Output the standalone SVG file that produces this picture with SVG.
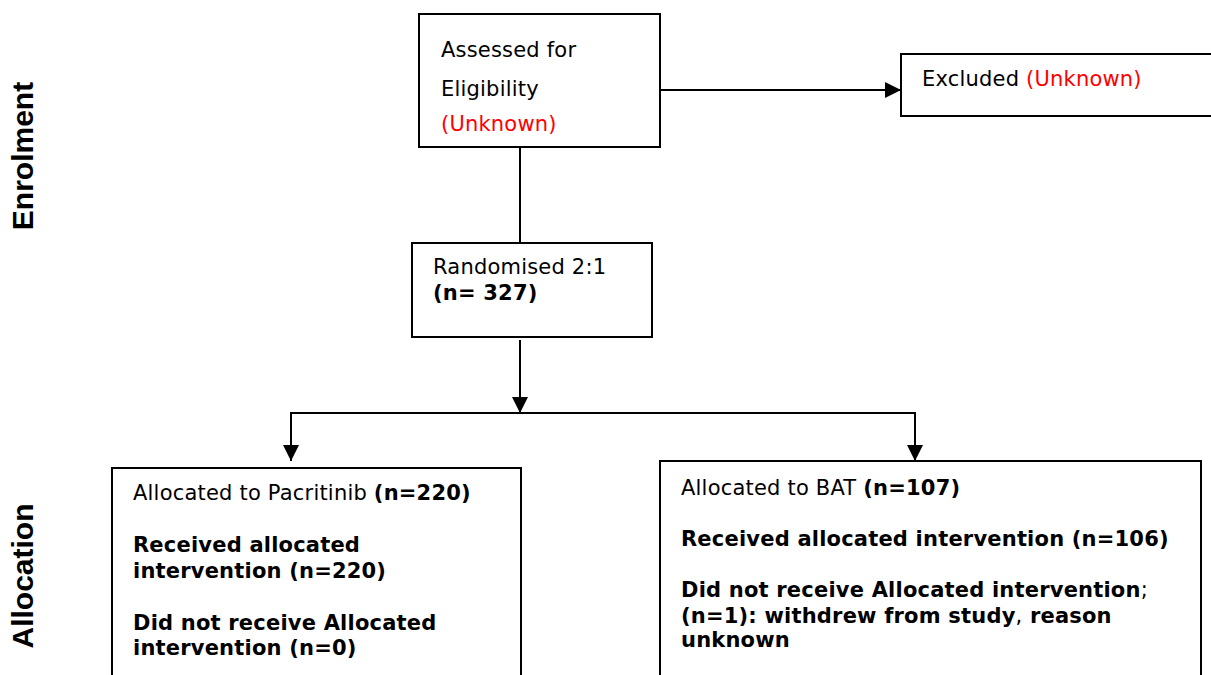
<svg xmlns="http://www.w3.org/2000/svg" width="1211" height="675" viewBox="0 0 1211 675">
<style>
.box{fill:#fff;stroke:#000;stroke-width:2}
.t{font-family:"DejaVu Sans",Verdana,sans-serif;font-size:21px;letter-spacing:0.2px;fill:#000}
.b{font-weight:bold}
.r{fill:#ff0000}
.n{font-weight:normal}
.side{font-family:"Liberation Sans",Arial,sans-serif;font-size:30px;font-weight:bold;fill:#000}
.ln{fill:none;stroke:#000;stroke-width:2}
</style>
<defs>
<marker id="ah" markerWidth="16" markerHeight="16" refX="16" refY="8" orient="auto" markerUnits="userSpaceOnUse">
<path d="M0,0 L16,8 L0,16 Z" fill="#000"/>
</marker>
</defs>
<rect width="1211" height="675" fill="#fff"/>
<text class="side" transform="translate(33,156) rotate(-90)" text-anchor="middle">Enrolment</text>
<text class="side" transform="translate(33,576) rotate(-90)" text-anchor="middle">Allocation</text>
<g id="connectors">
<line class="ln" x1="660" y1="90" x2="901" y2="90" marker-end="url(#ah)"/>
<line class="ln" x1="520" y1="147" x2="520" y2="243"/>
<line class="ln" x1="520" y1="340" x2="520" y2="413" marker-end="url(#ah)"/>
<polyline class="ln" points="291,413 915,413"/>
<line class="ln" x1="291" y1="412" x2="291" y2="461" marker-end="url(#ah)"/>
<line class="ln" x1="915" y1="412" x2="915" y2="461" marker-end="url(#ah)"/>
</g>
<g id="assessed">
<rect class="box" x="419" y="14" width="241" height="133"/>
<text class="t" x="441" y="57">Assessed for</text>
<text class="t" x="441" y="96">Eligibility</text>
<text class="t r" x="441" y="131">(Unknown)</text>
</g>
<g id="excluded">
<rect class="box" x="901" y="54" width="320" height="62"/>
<text class="t" x="922" y="86">Excluded <tspan class="r">(Unknown)</tspan></text>
</g>
<g id="randomised">
<rect class="box" x="412" y="243" width="240" height="94"/>
<text class="t" x="433" y="274">Randomised 2:1</text>
<text class="t b" x="433" y="300">(n= 327)</text>
</g>
<g id="pacritinib">
<rect class="box" x="112" y="468" width="409" height="220"/>
<text class="t" x="133" y="500">Allocated to Pacritinib <tspan class="b">(n=220)</tspan></text>
<text class="t b" x="133" y="552">Received allocated</text>
<text class="t b" x="133" y="578">intervention (n=220)</text>
<text class="t b" x="133" y="630">Did not receive Allocated</text>
<text class="t b" x="133" y="655">intervention (n=0)</text>
</g>
<g id="bat">
<rect class="box" x="660" y="461" width="541" height="230"/>
<text class="t" x="681" y="495">Allocated to BAT <tspan class="b">(n=107)</tspan></text>
<text class="t b" x="681" y="546">Received allocated intervention (n=106)</text>
<text class="t b" x="681" y="597">Did not receive Allocated intervention<tspan class="n">;</tspan></text>
<text class="t b" x="681" y="623">(n=1): withdrew from study<tspan class="n">,</tspan> reason</text>
<text class="t b" x="681" y="647">unknown</text>
</g>
</svg>
